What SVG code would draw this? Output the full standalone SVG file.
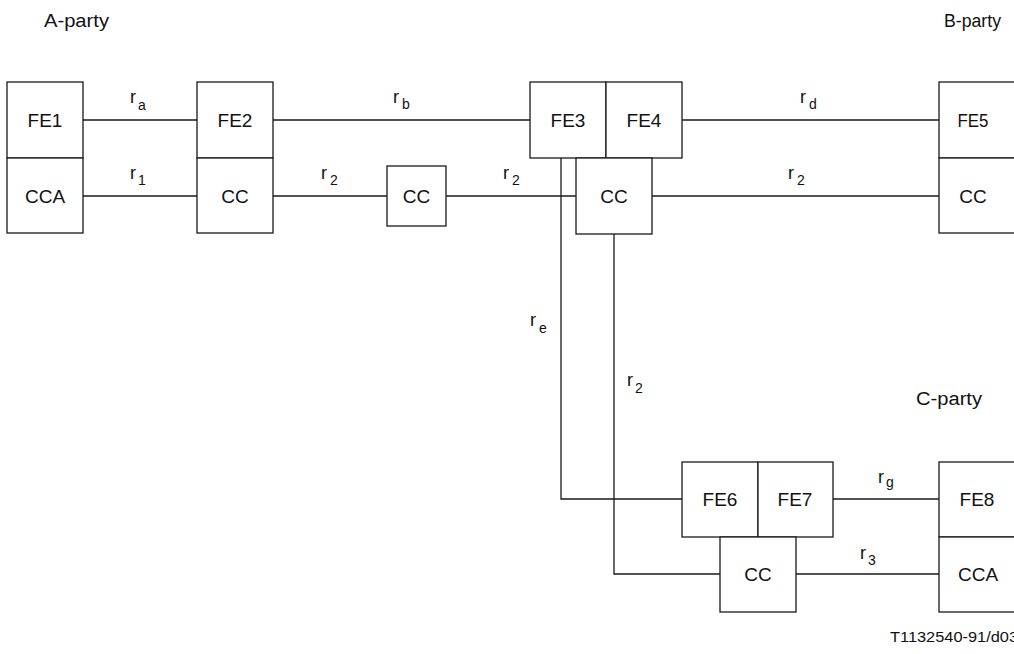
<svg xmlns="http://www.w3.org/2000/svg" width="1014" height="654" viewBox="0 0 1014 654">
<style>
.b{fill:#fff;stroke:#1a1a1a;stroke-width:1.3}
.c{fill:none;stroke:#1a1a1a;stroke-width:1.3}
.t{font-family:"Liberation Sans",Arial,sans-serif;font-size:19px;fill:#111;text-anchor:middle}
.l{font-family:"Liberation Sans",Arial,sans-serif;font-size:18px;fill:#111}
.s{font-family:"Liberation Sans",Arial,sans-serif;font-size:14px;fill:#111}
</style>
<rect width="1014" height="654" fill="#fff"/>
<g id="connectors">
<path class="c" d="M83,120H197M83,196H197M273,120H530M273,196H387M446,196H576M682,120H939M652,196H939M561,158V499H682M614,234V574H720M833,499H939M796,574H939"/>
</g>
<g id="labels">
<text class="l" x="44" y="27" textLength="65" lengthAdjust="spacingAndGlyphs">A-party</text>
<text class="l" x="944" y="27" textLength="57" lengthAdjust="spacingAndGlyphs">B-party</text>
<text class="l" x="916" y="405" textLength="66" lengthAdjust="spacingAndGlyphs">C-party</text>
<text class="s" x="890" y="642" textLength="128" lengthAdjust="spacingAndGlyphs">T1132540-91/d03</text>
<text class="l" x="130" y="103">r<tspan class="s" dx="2" dy="7">a</tspan></text>
<text class="l" x="130" y="179">r<tspan class="s" dx="2" dy="6">1</tspan></text>
<text class="l" x="393" y="103">r<tspan class="s" dx="3" dy="6">b</tspan></text>
<text class="l" x="321" y="179">r<tspan class="s" dx="3" dy="6">2</tspan></text>
<text class="l" x="503" y="179">r<tspan class="s" dx="3" dy="6">2</tspan></text>
<text class="l" x="800" y="103">r<tspan class="s" dx="3" dy="6">d</tspan></text>
<text class="l" x="788" y="179">r<tspan class="s" dx="3" dy="6">2</tspan></text>
<text class="l" x="530" y="326">r<tspan class="s" dx="3" dy="7">e</tspan></text>
<text class="l" x="627" y="386">r<tspan class="s" dx="2" dy="7">2</tspan></text>
<text class="l" x="878" y="483">r<tspan class="s" dx="2" dy="4">g</tspan></text>
<text class="l" x="860" y="559">r<tspan class="s" dx="2" dy="6">3</tspan></text>
</g>
<g id="nodeA">
<rect class="b" x="7" y="82" width="76" height="76"/>
<rect class="b" x="7" y="158" width="76" height="75"/>
<text class="t" x="45" y="127">FE1</text>
<text class="t" x="45" y="203">CCA</text>
</g>
<g id="nodeFE2">
<rect class="b" x="197" y="82" width="76" height="76"/>
<rect class="b" x="197" y="158" width="76" height="75"/>
<text class="t" x="235" y="127">FE2</text>
<text class="t" x="235" y="203">CC</text>
</g>
<g id="nodeCCmid">
<rect class="b" x="387" y="166" width="59" height="60"/>
<text class="t" x="416.5" y="203">CC</text>
</g>
<g id="nodeFE34">
<rect class="b" x="530" y="82" width="76" height="76"/>
<rect class="b" x="606" y="82" width="76" height="76"/>
<text class="t" x="568" y="127">FE3</text>
<text class="t" x="644" y="127">FE4</text>
<rect class="b" x="576" y="158" width="76" height="76"/>
<text class="t" x="614" y="203">CC</text>
</g>
<g id="nodeB">
<rect class="b" x="939" y="82" width="80" height="76"/>
<rect class="b" x="939" y="158" width="80" height="75"/>
<text class="t" x="973" y="127" textLength="31" lengthAdjust="spacingAndGlyphs">FE5</text>
<text class="t" x="973" y="203">CC</text>
</g>
<g id="nodeFE67">
<rect class="b" x="682" y="462" width="76" height="75"/>
<rect class="b" x="758" y="462" width="75" height="75"/>
<text class="t" x="720" y="506">FE6</text>
<text class="t" x="795" y="506">FE7</text>
<rect class="b" x="720" y="537" width="76" height="75"/>
<text class="t" x="758" y="581">CC</text>
</g>
<g id="nodeC">
<rect class="b" x="939" y="462" width="80" height="75"/>
<rect class="b" x="939" y="537" width="80" height="75"/>
<text class="t" x="977" y="506">FE8</text>
<text class="t" x="978" y="581">CCA</text>
</g>
</svg>
